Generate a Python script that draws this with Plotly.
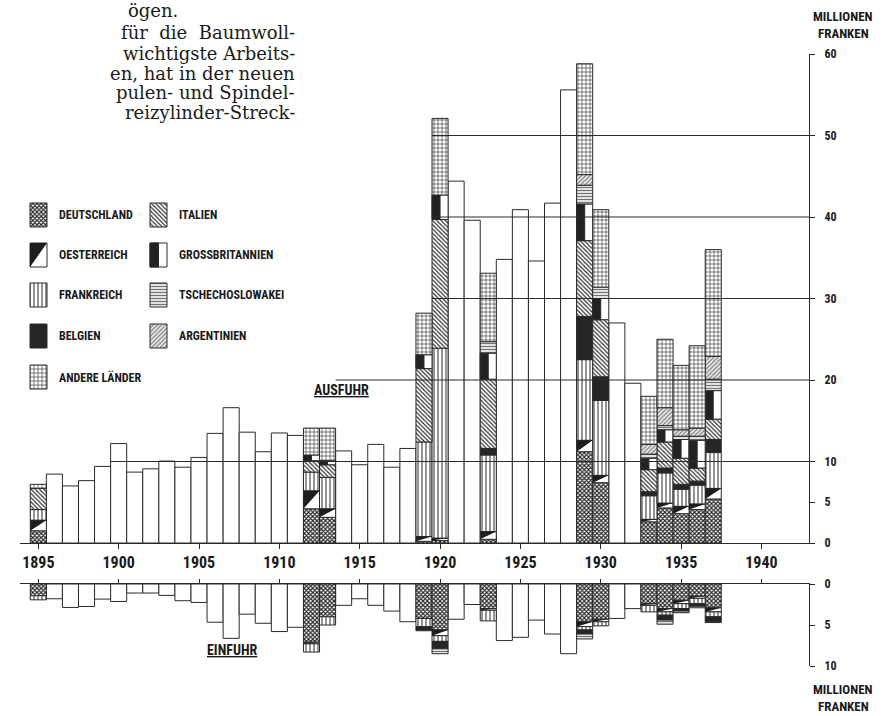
import plotly.graph_objects as go

# ---------------- data (Mio. Franken) ----------------
years = list(range(1895, 1938))
export_total = [7.2, 8.45, 7.0, 7.65, 9.4, 12.2, 8.7, 9.1, 10.05, 9.3,
                10.5, 13.45, 16.6, 13.6, 11.2, 13.5, 13.2, 14.1, 14.1, 11.3,
                9.6, 12.1, 9.3, 11.6, 28.2, 52.1, 44.4, 39.6, 33.1, 34.8,
                40.9, 34.6, 41.7, 55.6, 58.8, 40.9, 27.0, 19.6, 18.0, 25.0,
                21.8, 24.2, 36.0]
import_total = [1.93, 1.8, 2.86, 2.74, 1.84, 2.13, 1.1, 1.1, 1.39, 2.04,
                2.25, 4.66, 6.63, 3.68, 4.79, 5.8, 5.28, 8.3, 5.0, 2.6,
                1.8, 2.6, 3.3, 4.6, 5.7, 8.5, 4.3, 2.5, 4.5, 6.9,
                6.5, 4.4, 6.1, 8.5, 6.7, 5.1, 4.2, 3.0, 3.4, 4.9,
                3.5, 2.9, 4.7]

stack_years = [1895, 1912, 1913, 1919, 1920, 1923, 1929, 1930, 1933, 1934, 1935, 1936, 1937]
countries = ["DEUTSCHLAND", "OESTERREICH", "FRANKREICH", "BELGIEN", "ITALIEN",
             "GROSSBRITANNIEN", "TSCHECHOSLOWAKEI", "ARGENTINIEN", "ANDERE LÄNDER"]

# Ausfuhr nach Ländern
ex_deutschland = [1.5, 4.2, 3.15, 0.2, 0.3, 0.45, 11.2, 7.4, 2.6, 4.3, 3.6, 4.1, 5.4]
ex_oesterreich = [1.3, 2.2, 1.05, 0.6, 0.3, 0.95, 1.4, 0.9, 0.3, 0.6, 0.9, 0.7, 1.3]
ex_frankreich = [1.3, 2.3, 3.85, 11.6, 23.3, 9.4, 9.9, 9.2, 2.9, 3.7, 2.1, 2.3, 4.4]
ex_belgien = [0, 0, 0, 0, 0, 0.8, 5.3, 2.9, 0.5, 0.6, 0.6, 0.5, 1.6]
ex_italien = [2.6, 1.4, 1.55, 9.0, 15.8, 8.5, 9.3, 7.0, 2.7, 3.2, 3.2, 1.6, 2.5]
ex_grossbritannien = [0, 0.7, 0.5, 1.7, 3.0, 3.2, 4.5, 2.6, 1.4, 1.5, 2.3, 3.4, 3.5]
ex_tschechoslowakei = [0, 0, 0, 0, 0, 1.4, 2.3, 1.4, 0.5, 0.5, 0.4, 0.5, 1.4]
ex_argentinien = [0, 0, 0, 0, 0, 0, 1.3, 0, 1.2, 2.2, 0.8, 1.0, 2.8]
ex_andere = [0.5, 3.3, 4.0, 5.1, 9.4, 8.4, 13.6, 9.5, 5.9, 8.4, 7.9, 10.1, 13.1]

# Einfuhr nach Ländern
im_deutschland = [1.43, 7.1, 4.0, 4.2, 5.6, 3.0, 4.6, 4.3, 2.4, 3.0, 2.0, 1.5, 2.9]
im_oesterreich = [0, 0.2, 0, 0, 0.7, 0.2, 0.6, 0.3, 0.2, 0.4, 0.4, 0.25, 0.5]
im_frankreich = [0.5, 1.0, 1.0, 1.0, 0.7, 1.3, 0.4, 0.5, 0.8, 0.4, 0.6, 0.65, 0.6]
im_belgien = [0, 0, 0, 0.5, 0.9, 0, 0.5, 0, 0, 0.6, 0.3, 0.3, 0.6]
im_italien = [0, 0, 0, 0, 0, 0, 0, 0, 0, 0, 0, 0, 0]
im_grossbritannien = [0, 0, 0, 0, 0, 0, 0, 0, 0, 0, 0, 0, 0]
im_tschechoslowakei = [0, 0, 0, 0, 0.6, 0, 0.6, 0, 0, 0.5, 0.2, 0.2, 0.1]
im_argentinien = [0, 0, 0, 0, 0, 0, 0, 0, 0, 0, 0, 0, 0]
im_andere = [0, 0, 0, 0, 0, 0, 0, 0, 0, 0, 0, 0, 0]

export_parts = [ex_deutschland, ex_oesterreich, ex_frankreich, ex_belgien, ex_italien,
                ex_grossbritannien, ex_tschechoslowakei, ex_argentinien, ex_andere]
import_parts = [im_deutschland, im_oesterreich, im_frankreich, im_belgien, im_italien,
                im_grossbritannien, im_tschechoslowakei, im_argentinien, im_andere]

year_ticks = [1895, 1900, 1905, 1910, 1915, 1920, 1925, 1930, 1935, 1940]
export_ticks = [0, 5, 10, 20, 30, 40, 50, 60]
import_ticks = [0, 5, 10]

# ---------------- styles ----------------
INK = "#1a1a1a"
FRAME = "#2a2a2a"
COND = ("Noto Sans Condensed, Roboto Condensed, DejaVu Sans Condensed, "
        "Liberation Sans Narrow, Roboto, sans-serif")
SERIF = "DejaVu Serif, Liberation Serif, serif"

STYLE = {
    "DEUTSCHLAND": dict(kind="pattern", shape="x", size=3, solidity=0.6, fg="#222222", bg="#ffffff"),
    "OESTERREICH": dict(kind="triangle", color="#1e1e1e"),
    "FRANKREICH": dict(kind="pattern", shape="|", size=4, solidity=0.25, fg="#2a2a2a", bg="#ffffff"),
    "BELGIEN": dict(kind="solid", color="#262626"),
    "ITALIEN": dict(kind="pattern", shape="\\", size=3, solidity=0.38, fg="#2a2a2a", bg="#ffffff"),
    "GROSSBRITANNIEN": dict(kind="half", color="#222222"),
    "TSCHECHOSLOWAKEI": dict(kind="pattern", shape="-", size=3, solidity=0.3, fg="#666666", bg="#e2e2e2"),
    "ARGENTINIEN": dict(kind="pattern", shape="/", size=3, solidity=0.3, fg="#666666", bg="#e6e6e6"),
    "ANDERE LÄNDER": dict(kind="pattern", shape="+", size=4, solidity=0.28, fg="#2a2a2a", bg="#ffffff"),
}

# layout geometry (pixels)
W, H = 883, 716
L, R, T, B = 20, 74, 54, 50
PW, PH = W - L - R, H - T - B
X0, X1 = 1893.86, 1942.96
UP_ZERO_PX, LOW_ZERO_PX = 543, 584
UP_DOMAIN = [(H - B - UP_ZERO_PX) / PH, 1.0]
LOW_DOMAIN = [0.0, (H - B - LOW_ZERO_PX) / PH]
GRID_START = {10: 1899.5, 20: 1913.5, 30: 1919.5, 40: 1919.5, 50: 1919.5}


def paper(px, py):
    return (px - L) / PW, (H - B - py) / PH


fig = go.Figure()


def add_bar(x, y, base, xa, ya, color, pattern=None, width=1.0, offset=None, lw=1.0):
    marker = dict(color=color, line=dict(color=FRAME, width=lw))
    if pattern is not None:
        marker["pattern"] = pattern
    kw = dict(x=x, y=y, base=base, width=width, marker=marker, xaxis=xa, yaxis=ya,
              showlegend=False, hoverinfo="skip")
    if offset is not None:
        kw["offset"] = offset
    fig.add_trace(go.Bar(**kw))


def add_segment(name, xs, vals, bases, xa, ya, width=1.0, down=False):
    keep = [i for i, v in enumerate(vals) if v > 0]
    if not keep:
        return
    xs = [xs[i] for i in keep]
    vals = [vals[i] for i in keep]
    bases = [bases[i] for i in keep]
    st = STYLE[name]
    kind = st["kind"]
    if kind == "pattern":
        pat = dict(shape=st["shape"], size=st["size"], solidity=st["solidity"],
                   fgcolor=st["fg"], bgcolor=st["bg"], fillmode="replace")
        add_bar(xs, vals, bases, xa, ya, st["bg"], pat, width)
    elif kind == "solid":
        add_bar(xs, vals, bases, xa, ya, st["color"], None, width)
    elif kind == "half":
        add_bar(xs, vals, bases, xa, ya, "white", None, width)
        add_bar(xs, vals, bases, xa, ya, st["color"], None, width / 2, offset=-width / 2)
    elif kind == "triangle":
        add_bar(xs, vals, bases, xa, ya, "white", None, width)
        px, py = [], []
        for x, v, b in zip(xs, vals, bases):
            lft, rgt = x - width / 2, x + width / 2
            top, bot = (b, b + v) if down else (b + v, b)
            px += [lft, rgt, lft, lft, None]
            py += [top, top, bot, top, None]
        fig.add_trace(go.Scatter(x=px, y=py, mode="lines", fill="toself",
                                 fillcolor=st["color"], line=dict(width=0, color=st["color"]),
                                 xaxis=xa, yaxis=ya, showlegend=False, hoverinfo="skip"))


# plain (unsplit) bars
plain_years = [y for y in years if y not in stack_years]
plain_ex = [v for y, v in zip(years, export_total) if y not in stack_years]
plain_im = [v for y, v in zip(years, import_total) if y not in stack_years]
add_bar(plain_years, plain_ex, [0] * len(plain_years), "x", "y", "white")
add_bar(plain_years, plain_im, [0] * len(plain_years), "x2", "y2", "white")

# stacked bars by country
base = [0.0] * len(stack_years)
for name, vals in zip(countries, export_parts):
    add_segment(name, stack_years, vals, base[:], "x", "y")
    base = [b + v for b, v in zip(base, vals)]

base = [0.0] * len(stack_years)
for name, vals in zip(countries, import_parts):
    add_segment(name, stack_years, vals, base[:], "x2", "y2", down=True)
    base = [b + v for b, v in zip(base, vals)]

# legend (drawn in its own pixel-scaled axes)
LEG_COLS = {0: 38.5, 1: 158.5}
LEG_ROWS = [203, 243, 283, 324, 365]
LEG_POS = {"DEUTSCHLAND": (0, 0), "OESTERREICH": (0, 1), "FRANKREICH": (0, 2),
           "BELGIEN": (0, 3), "ANDERE LÄNDER": (0, 4), "ITALIEN": (1, 0),
           "GROSSBRITANNIEN": (1, 1), "TSCHECHOSLOWAKEI": (1, 2), "ARGENTINIEN": (1, 3)}
annotations = []
for name in countries:
    c, r = LEG_POS[name]
    add_segment(name, [LEG_COLS[c]], [24], [LEG_ROWS[r]], "x3", "y3", width=17, down=True)
    annotations.append(dict(x=LEG_COLS[c] + 18.5, y=LEG_ROWS[r] + 12, xref="x3", yref="y3",
                            text=name, showarrow=False, xanchor="left", yanchor="middle",
                            font=dict(family=COND, size=12, color=INK, weight="bold")))

# gridlines (partial, as in the original)
shapes = []
for v, x0 in GRID_START.items():
    shapes.append(dict(type="line", xref="x", yref="y", x0=x0, x1=X1, y0=v, y1=v,
                       line=dict(color=FRAME, width=1), layer="above"))


def text_ann(px, py, text, size, family=COND, xanchor="center", bold=True):
    x, y = paper(px, py)
    annotations.append(dict(x=x, y=y, xref="paper", yref="paper", text=text, showarrow=False,
                            xanchor=xanchor, yanchor="middle",
                            font=dict(family=family, size=size, color=INK,
                                      weight="bold" if bold else "normal")))


text_ann(341, 390, "<u>AUSFUHR</u>", 14)
text_ann(232, 650, "<u>EINFUHR</u>", 14)
text_ann(843, 17, "MILLIONEN", 13)
text_ann(843, 34, "FRANKEN", 13)
text_ann(843, 689, "MILLIONEN", 13)
text_ann(843, 706, "FRANKEN", 13)

# cropped book text in the upper left
book_lines = [(126, 10, "ögen.", "left"),
              (297, 33, "für  die  Baumwoll-", "right"),
              (297, 53, "wichtigste Arbeits-", "right"),
              (297, 73, "en, hat in der neuen", "right"),
              (297, 92, "pulen- und Spindel-", "right"),
              (297, 112, "reizylinder-Streck-", "right")]
for px, py, t, anc in book_lines:
    text_ann(px, py, t, 18, family=SERIF, xanchor=anc, bold=False)

axis_font_years = dict(family=COND, size=16, color=INK, weight="bold")
axis_font_vals = dict(family=COND, size=12, color=INK, weight="bold")

fig.update_layout(
    width=W, height=H, margin=dict(l=L, r=R, t=T, b=B),
    paper_bgcolor="white", plot_bgcolor="rgba(0,0,0,0)",
    barmode="overlay", bargap=0, showlegend=False,
    xaxis=dict(domain=[0, 1], range=[X0, X1], anchor="y", showline=True, linecolor=FRAME,
               linewidth=1, ticks="outside", tickvals=year_ticks, ticklen=5, tickcolor=FRAME,
               tickfont=axis_font_years, showgrid=False, zeroline=False, ticklabelstandoff=0),
    xaxis2=dict(domain=[0, 1], range=[X0, X1], anchor="y2", side="top", showline=True,
                linecolor=FRAME, linewidth=1, ticks="outside", tickvals=year_ticks, ticklen=4,
                tickcolor=FRAME, showticklabels=False, showgrid=False, zeroline=False),
    yaxis=dict(domain=UP_DOMAIN, range=[0, 60], anchor="x", side="right", showline=True,
               linecolor=FRAME, linewidth=1, ticks="outside", tickvals=export_ticks, ticklen=5,
               tickcolor=FRAME, tickfont=axis_font_vals, showgrid=False, zeroline=False,
               ticklabelstandoff=7),
    yaxis2=dict(domain=LOW_DOMAIN, range=[10, 0], anchor="x2", side="right", showline=True,
                linecolor=FRAME, linewidth=1, ticks="outside", tickvals=import_ticks, ticklen=5,
                tickcolor=FRAME, tickfont=axis_font_vals, showgrid=False, zeroline=False,
                ticklabelstandoff=7),
    xaxis3=dict(domain=[0, (300 - L) / PW], range=[L, 300], anchor="y3", visible=False),
    yaxis3=dict(domain=[(H - B - 400) / PH, (H - B - 195) / PH], range=[400, 195],
                anchor="x3", visible=False),
    shapes=shapes, annotations=annotations,
)

fig.write_html("out.html", config={"displayModeBar": False, "staticPlot": True},
               post_script="document.body.style.margin='0px';document.body.style.overflow='hidden';")
